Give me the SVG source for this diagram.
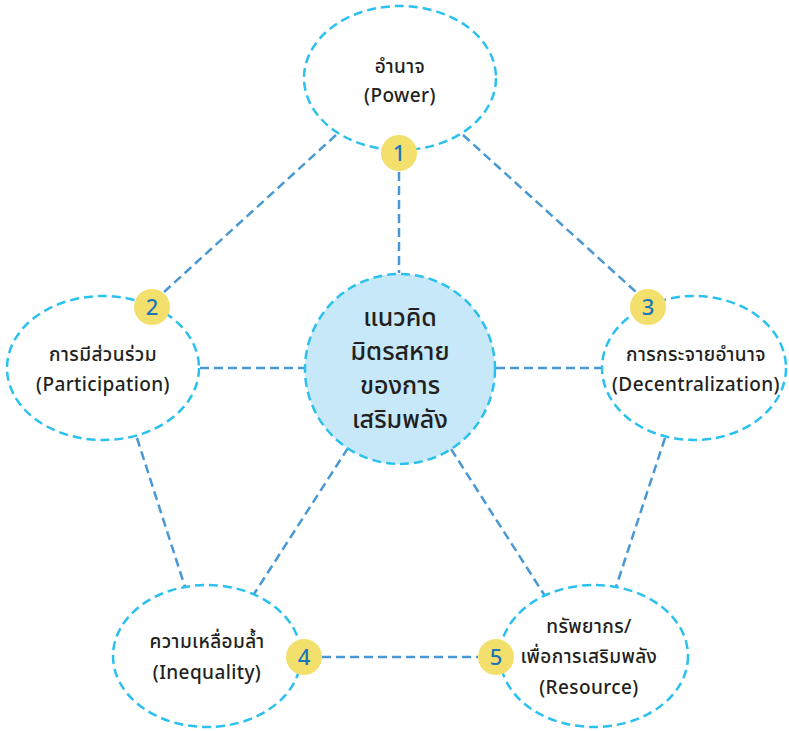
<svg xmlns="http://www.w3.org/2000/svg" width="789" height="731" viewBox="0 0 789 731">
<style>
.bg{fill:#ffffff}
.node{fill:#ffffff;stroke:#2bc1ef;stroke-width:2.5;stroke-dasharray:9 5}
.core{fill:#c6e8f9;stroke:#2bc1ef;stroke-width:2.5;stroke-dasharray:9 5}
.con{stroke:#4a98d3;stroke-width:2.5;stroke-dasharray:9 5;fill:none}
.badge{fill:#f3e06c}
.num{font-family:"Noto Sans","Noto Sans Thai",sans-serif;font-size:22px;font-weight:500;fill:#1b75bb;text-anchor:middle}
.t{font-family:"Noto Sans","Noto Sans Thai","Noto Sans Thai UI",sans-serif;font-size:19px;letter-spacing:0.4px;font-weight:500;fill:#231f20;text-anchor:middle}
.tc{font-family:"Noto Sans","Noto Sans Thai","Noto Sans Thai UI",sans-serif;font-size:25px;font-weight:500;fill:#231f20;text-anchor:middle}
</style>
<rect class="bg" x="0" y="0" width="789" height="731"/>
<g id="connectors">
<line class="con" x1="399" y1="172" x2="399" y2="273"/>
<line class="con" x1="336" y1="135" x2="164" y2="292"/>
<line class="con" x1="463" y1="135" x2="636" y2="292"/>
<line class="con" x1="200" y1="368" x2="304" y2="368"/>
<line class="con" x1="496" y1="368" x2="602" y2="368"/>
<line class="con" x1="137" y1="438" x2="185" y2="587"/>
<line class="con" x1="665" y1="438" x2="616" y2="587"/>
<line class="con" x1="348" y1="448" x2="254" y2="594"/>
<line class="con" x1="451" y1="449" x2="545" y2="596"/>
<line class="con" x1="322" y1="657" x2="478" y2="657"/>
</g>
<g id="node-power">
<ellipse class="node" cx="400" cy="78" rx="96" ry="72"/>
<text class="t" x="400" y="73">อำนาจ</text>
<text class="t" x="400" y="102">(Power)</text>
</g>
<g id="node-participation">
<ellipse class="node" cx="103" cy="368" rx="96" ry="72"/>
<text class="t" x="103" y="361">การมีส่วนร่วม</text>
<text class="t" x="103" y="391">(Participation)</text>
</g>
<g id="node-decentralization">
<ellipse class="node" cx="694" cy="368" rx="92" ry="72"/>
<text class="t" x="696" y="361">การกระจายอำนาจ</text>
<text class="t" x="696" y="391">(Decentralization)</text>
</g>
<g id="node-inequality">
<ellipse class="node" cx="207" cy="656" rx="94" ry="71"/>
<text class="t" x="207" y="648">ความเหลื่อมล้ำ</text>
<text class="t" x="207" y="679">(Inequality)</text>
</g>
<g id="node-resource">
<ellipse class="node" cx="594" cy="656" rx="94" ry="71"/>
<text class="t" x="589" y="633">ทรัพยากร/</text>
<text class="t" x="589" y="663">เพื่อการเสริมพลัง</text>
<text class="t" x="589" y="694">(Resource)</text>
</g>
<g id="node-center">
<circle class="core" cx="400" cy="369" r="95"/>
<text class="tc" x="400" y="326">แนวคิด</text>
<text class="tc" x="400" y="360">มิตรสหาย</text>
<text class="tc" x="400" y="394">ของการ</text>
<text class="tc" x="400" y="428">เสริมพลัง</text>
</g>
<g id="badge-1"><circle class="badge" cx="399" cy="153" r="18"/><text class="num" x="399" y="161">1</text></g>
<g id="badge-2"><circle class="badge" cx="152" cy="307" r="18"/><text class="num" x="152" y="315">2</text></g>
<g id="badge-3"><circle class="badge" cx="648" cy="307" r="18"/><text class="num" x="648" y="315">3</text></g>
<g id="badge-4"><circle class="badge" cx="304" cy="657" r="18"/><text class="num" x="304" y="665">4</text></g>
<g id="badge-5"><circle class="badge" cx="496" cy="657" r="18"/><text class="num" x="496" y="665">5</text></g>
</svg>
